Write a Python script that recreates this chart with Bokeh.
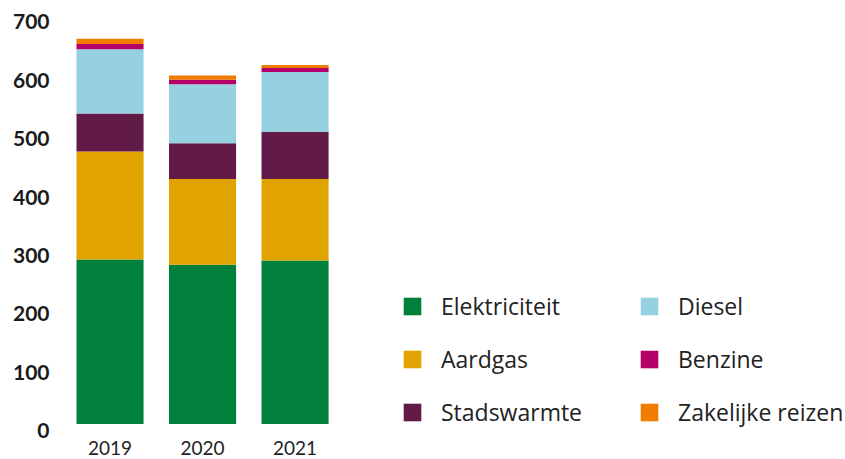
from bokeh.plotting import figure
from bokeh.models import ColumnDataSource, Legend, LegendItem, FixedTicker, Range1d, LinearAxis
from bokeh.embed import file_html
from bokeh.resources import INLINE

years = [2019, 2020, 2021]
elektriciteit = [282, 273, 280]
aardgas = [185, 147, 140]
stadswarmte = [65, 61, 81]
diesel = [110, 101, 102]
benzine = [9, 8, 7]
zakelijke_reizen = [9, 7, 5]

series = ["Elektriciteit", "Aardgas", "Stadswarmte", "Diesel", "Benzine", "Zakelijke reizen"]
colors = ["#00803A", "#E0A300", "#621A47", "#96D1E2", "#B5006A", "#F07D00"]
y_ticks = [0, 100, 200, 300, 400, 500, 600, 700]

source = ColumnDataSource(data=dict(
    years=years,
    Elektriciteit=elektriciteit,
    Aardgas=aardgas,
    Stadswarmte=stadswarmte,
    Diesel=diesel,
    Benzine=benzine,
    **{"Zakelijke reizen": zakelijke_reizen},
))

pad = 11.1  # label offset below the tick, in data units
p = figure(
    x_range=Range1d(2018.497, 2026.95), y_range=Range1d(-pad, 700),
    frame_width=782, frame_height=415,
    min_border_left=63, min_border_right=0, min_border_top=15, min_border_bottom=29,
    output_backend="svg", toolbar_location=None,
    background_fill_color="white", border_fill_color="white", outline_line_color=None,
)

renderers = p.vbar_stack(series, x="years", width=0.725, color=colors, line_color=None, source=source)

p.xgrid.grid_line_color = None
p.ygrid.grid_line_color = None
p.yaxis.visible = False

p.extra_y_ranges = {"lab": Range1d(0, 700 + pad)}
yax = LinearAxis(y_range_name="lab", ticker=FixedTicker(ticks=y_ticks))
yax.axis_line_color = None
yax.major_tick_line_color = None
yax.minor_tick_line_color = None
yax.major_label_text_font = "Lato"
yax.major_label_text_font_style = "bold"
yax.major_label_text_font_size = "21px"
yax.major_label_text_color = "#1a1a1a"
yax.major_label_standoff = 8
p.add_layout(yax, "left")

p.xaxis.ticker = FixedTicker(ticks=years)
p.xaxis.axis_line_color = None
p.xaxis.major_tick_line_color = None
p.xaxis.minor_tick_line_color = None
p.xaxis.major_label_text_font = "Lato"
p.xaxis.major_label_text_font_size = "19px"
p.xaxis.major_label_text_color = "#222222"
p.xaxis.major_label_standoff = 4

def make_legend(idx, loc):
    items = [LegendItem(label=series[i], renderers=[renderers[i]]) for i in idx]
    lg = Legend(items=items, location=loc, orientation="vertical",
                glyph_width=22, glyph_height=22, label_standoff=18,
                label_height=22, spacing=21, padding=0, margin=0,
                border_line_color=None, background_fill_alpha=0,
                label_text_font="Open Sans", label_text_font_size="23px",
                label_text_color="#222222")
    return lg

p.add_layout(make_legend([0, 1, 2], (338, 2)))
p.add_layout(make_legend([3, 4, 5], (575, 2)))

open("out.html", "w").write(file_html(p, INLINE))
